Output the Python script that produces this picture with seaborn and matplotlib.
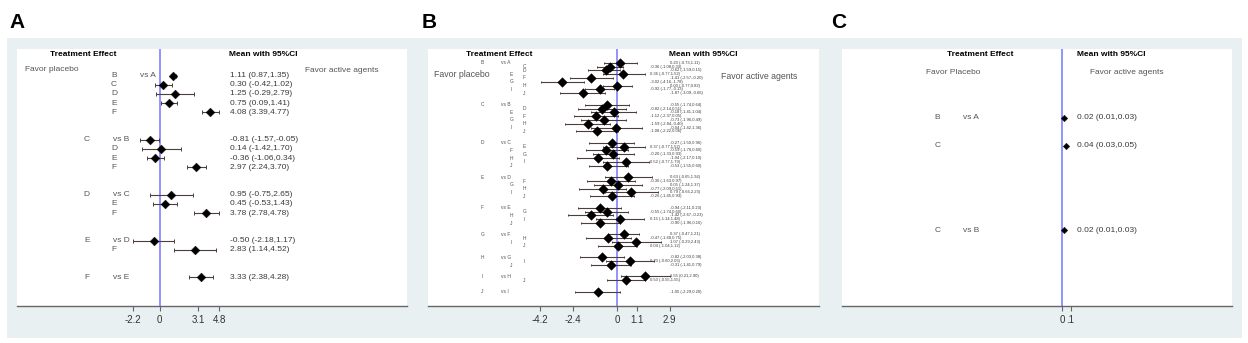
import pandas as pd
import matplotlib.pyplot as plt
import seaborn as sns
from matplotlib.patches import Rectangle

# ---- 데이터 (A: 6개 약제, B: 10개 약제, C: 3개 약제)
a_ref = ['A', 'A', 'A', 'A', 'A', 'B', 'B', 'B', 'B', 'C', 'C', 'C', 'D', 'D', 'E']
a_trt = ['B', 'C', 'D', 'E', 'F', 'C', 'D', 'E', 'F', 'D', 'E', 'F', 'E', 'F', 'F']
a_mean = [1.11, 0.30, 1.25, 0.75, 4.08, -0.81, 0.14, -0.36, 2.97, 0.95, 0.45, 3.78, -0.50, 2.83, 3.33]
a_lo = [0.87, -0.42, -0.29, 0.09, 3.39, -1.57, -1.42, -1.06, 2.24, -0.75, -0.53, 2.78, -2.18, 1.14, 2.38]
a_hi = [1.35, 1.02, 2.79, 1.41, 4.77, -0.05, 1.70, 0.34, 3.70, 2.65, 1.43, 4.78, 1.17, 4.52, 4.28]
a_ticks = [-2.2, 0, 3.1, 4.8]

b_letters = ['A', 'B', 'C', 'D', 'E', 'F', 'G', 'H', 'I', 'J']
b_mean = [0.20, -0.36, -0.62, 0.36, -1.41, -3.02, 0.00, -0.92, -1.87,
          -0.55, -0.82, -0.18, -1.12, -0.73, -1.59, -0.04, -1.08,
          -0.27, 0.37, -0.59, -0.20, -1.04, 0.52, -0.53,
          0.63, -0.30, 0.05, -0.77, 0.79, -0.26,
          -0.94, -0.55, -1.42, 0.15, -0.90,
          0.37, -0.47, 1.07, 0.04,
          -0.82, 0.70, -0.31,
          1.55, 0.50,
          -1.05]
b_lo = [-0.73, -1.08, -1.59, -0.77, -2.57, -4.16, -0.77, -1.77, -3.09,
        -1.74, -2.14, -1.41, -2.37, -1.96, -2.84, -1.42, -2.22,
        -1.50, -0.77, -1.70, -1.33, -2.17, -0.77, -1.55,
        -0.65, -1.63, -1.24, -2.09, -0.66, -1.45,
        -2.11, -1.74, -2.67, -1.14, -1.96,
        -0.47, -1.68, -0.29, -1.04,
        -2.03, -0.60, -1.41,
        0.21, -0.55,
        -2.29]
b_hi = [1.11, 0.33, 0.15, 1.52, -0.20, -1.78, 0.82, -0.13, -0.66,
        0.64, 0.51, 1.04, 0.05, 0.49, -0.40, 1.36, 0.06,
        0.96, 1.52, 0.60, 0.93, 0.10, 1.79, 0.60,
        1.92, 0.97, 1.37, 0.51, 2.23, 0.93,
        0.23, 0.60, -0.23, 1.48, 0.16,
        1.21, 0.75, 2.43, 1.12,
        0.38, 2.03, 0.79,
        2.90, 1.55,
        0.20]
b_ticks = [-4.2, -2.4, 0, 1.1, 2.9]

c_ref = ['A', 'A', 'B']
c_trt = ['B', 'C', 'C']
c_mean = [0.02, 0.04, 0.02]
c_lo = [0.01, 0.03, 0.01]
c_hi = [0.03, 0.05, 0.03]
c_ticks = [0, 0.1]
c_ticklabels = ['0', '.1']

b_ref, b_trt = [], []
for i, r in enumerate(b_letters[:-1]):
    for t in b_letters[i + 1:]:
        b_ref.append(r)
        b_trt.append(t)


def build(ref, trt, mean, lo, hi):
    df = pd.DataFrame({'ref': ref, 'trt': trt, 'mean': mean, 'lo': lo, 'hi': hi})
    rows, ks = [], []
    r, k, prev = 0, 0, None
    for g in df['ref']:
        if prev is not None:
            if g != prev:
                r += 3   # 그룹 사이 빈 줄 2개
                k = 0
            else:
                r += 1
                k += 1
        rows.append(r)
        ks.append(k)
        prev = g
    df['row'] = rows
    df['k'] = ks
    df['label'] = df.apply(lambda x: f"{x['mean']:.2f} ({x['lo']:.2f},{x['hi']:.2f})", axis=1)
    return df


dfa = build(a_ref, a_trt, a_mean, a_lo, a_hi)
dfb = build(b_ref, b_trt, b_mean, b_lo, b_hi)
dfc = build(c_ref, c_trt, c_mean, c_lo, c_hi)

sns.set_theme(style='white')
plt.rcParams['font.family'] = ['Liberation Sans', 'DejaVu Sans']

CI_COL = '#4f3d3d'
LAB_COL = '#555555'
VAL_COL = '#3a3a3a'

fig = plt.figure(figsize=(12.48, 3.43), dpi=100)
fig.patches.append(Rectangle((7 / 1248, 5 / 343), 1235 / 1248, 300 / 343,
                             transform=fig.transFigure, facecolor='#e8f0f2',
                             edgecolor='none', zorder=-1))


def draw(ax, df, xlim, ylim, ticks, ticklabels, s, cap):
    ax.set_zorder(1)
    ax.set_facecolor('white')
    ax.axvline(0, color='#8080ff', lw=1.2, zorder=1)
    ax.errorbar(df['mean'], df['row'], xerr=[df['mean'] - df['lo'], df['hi'] - df['mean']],
                fmt='none', ecolor=CI_COL, elinewidth=0.8, capsize=cap, capthick=0.7, zorder=2)
    sns.scatterplot(data=df, x='mean', y='row', marker='D', color='black', s=s,
                    edgecolor='black', linewidth=0.3, ax=ax, zorder=3, legend=False)
    ax.set_xlim(xlim)
    ax.set_ylim(ylim)
    ax.set_xticks(ticks)
    ax.set_xticklabels(ticklabels)
    ax.set_yticks([])
    ax.set_xlabel('')
    ax.set_ylabel('')
    for sp in ['top', 'left', 'right']:
        ax.spines[sp].set_visible(False)
    ax.spines['bottom'].set_color('#666666')
    ax.spines['bottom'].set_linewidth(1.0)
    ax.tick_params(axis='x', bottom=True, length=3.5, width=0.8, color='#666666',
                   labelsize=7, labelcolor='#333333', pad=3)


# [A]
axA = fig.add_axes([17 / 1248, 37 / 343, 390 / 1248, 257 / 343])
draw(axA, dfa, (-11.54, 19.99), (25.14, -2.91), a_ticks, [f'{t:g}' for t in a_ticks], 20, 1.2)
axA.text(-6.22, -2.34, 'Treatment Effect', ha='center', va='center', fontsize=6, weight='bold', color='black')
axA.text(8.35, -2.34, 'Mean with 95%CI', ha='center', va='center', fontsize=6, weight='bold', color='black')
axA.text(-10.89, -0.7, 'Favor placebo', ha='left', va='center', fontsize=6, color=LAB_COL)
axA.text(11.75, -0.55, 'Favor active agents', ha='left', va='center', fontsize=6, color=LAB_COL)
for _, r in dfa.iterrows():
    if r['k'] == 0 and r['row'] == 0:
        axA.text(-3.69, r['row'], r['trt'], ha='center', va='center', fontsize=6, color=LAB_COL)
        axA.text(-1.59, r['row'], 'vs ' + r['ref'], ha='left', va='center', fontsize=6, color=LAB_COL)
    elif r['k'] == 0:
        axA.text(-5.9, r['row'], r['trt'], ha='center', va='center', fontsize=6, color=LAB_COL)
        axA.text(-3.78, r['row'], 'vs ' + r['ref'], ha='left', va='center', fontsize=6, color=LAB_COL)
    else:
        axA.text(-3.69, r['row'], r['trt'], ha='center', va='center', fontsize=6, color=LAB_COL)
    axA.text(5.68, r['row'], r['label'], ha='left', va='center', fontsize=6, color=VAL_COL)

# [B]
axB = fig.add_axes([428 / 1248, 37 / 343, 391 / 1248, 257 / 343])
draw(axB, dfb, (-10.35, 11.08), (63.74, -3.59), b_ticks, [f'{t:g}' for t in b_ticks], 24, 1.0)
axB.text(-6.45, -2.2, 'Treatment Effect', ha='center', va='center', fontsize=6, weight='bold', color='black')
axB.text(4.71, -2.2, 'Mean with 95%CI', ha='center', va='center', fontsize=6, weight='bold', color='black')
axB.text(-10.03, 3.14, 'Favor placebo', ha='left', va='center', fontsize=6.3, color=LAB_COL)
axB.text(5.70, 3.5, 'Favor active agents', ha='left', va='center', fontsize=6.3, color=LAB_COL)
for _, r in dfb.iterrows():
    k = r['k']
    if k == 0:
        axB.text(-7.36, r['row'], r['trt'], ha='center', va='center', fontsize=3.5, color=LAB_COL)
        axB.text(-6.34, r['row'], 'vs ' + r['ref'], ha='left', va='center', fontsize=3.5, color=LAB_COL)
    else:
        par = k + 1 if (r['ref'] == 'A' and k >= 2) else k
        xc = -5.07 if par % 2 == 1 else -5.79
        axB.text(xc, r['row'], r['trt'], ha='center', va='center', fontsize=3.5, color=LAB_COL)
    xv = 2.9 if k % 2 == 0 else 1.8
    axB.text(xv, r['row'], r['label'], ha='left', va='center', fontsize=3, color=VAL_COL)

# [C]
axC = fig.add_axes([842 / 1248, 37 / 343, 390 / 1248, 257 / 343])
draw(axC, dfc, (-2.62, 2.02), (6.71, -2.46), c_ticks, c_ticklabels, 11, 0.8)
axC.text(-0.971, -2.28, 'Treatment Effect', ha='center', va='center', fontsize=6, weight='bold', color='black')
axC.text(0.58, -2.28, 'Mean with 95%CI', ha='center', va='center', fontsize=6, weight='bold', color='black')
axC.text(-1.30, -1.62, 'Favor Placebo', ha='center', va='center', fontsize=6, color=LAB_COL)
axC.text(0.767, -1.62, 'Favor active agents', ha='center', va='center', fontsize=6, color=LAB_COL)
for _, r in dfc.iterrows():
    axC.text(-1.483, r['row'], r['trt'], ha='center', va='center', fontsize=6, color=LAB_COL)
    if r['k'] == 0:
        axC.text(-1.179, r['row'], 'vs ' + r['ref'], ha='left', va='center', fontsize=6, color=LAB_COL)
    axC.text(0.179, r['row'], r['label'], ha='left', va='center', fontsize=6, color=VAL_COL)

# 패널 라벨
for x, t in [(9, 'A'), (422, 'B'), (831, 'C')]:
    fig.text(x / 1248, 1 - 28 / 343, t, fontsize=15, weight='bold', color='black',
             ha='left', va='baseline')

fig.savefig('out.png', dpi=100)
